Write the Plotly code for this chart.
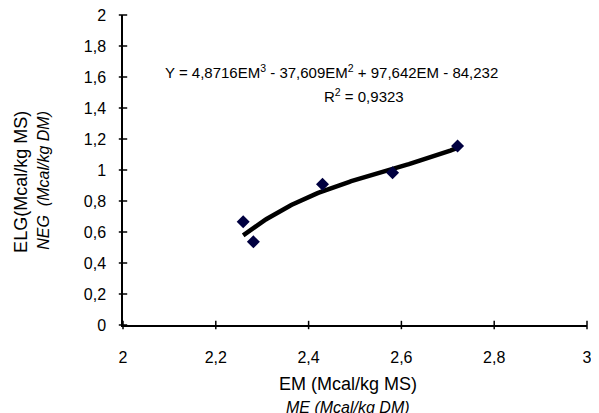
import numpy as np
import plotly.graph_objects as go

# Data
em_values = [2.259, 2.281, 2.430, 2.581, 2.721]
elg_values = [0.666, 0.537, 0.908, 0.983, 1.155]
# Trendline coefficients as printed on the chart (cubic, highest power first)
trend_coefs = [4.8716, -37.609, 97.642, -84.232]
x_ticks = [2, 2.2, 2.4, 2.6, 2.8, 3]
y_ticks = [0, 0.2, 0.4, 0.6, 0.8, 1, 1.2, 1.4, 1.6, 1.8, 2]
x_range = [2, 3]
y_range = [0, 2]

FONT = "Arial, Liberation Sans, sans-serif"

# The page body has an 8px margin; size the figure so the plot area lands
# at page x 123..591, y 15..325.
OFF = 8
PL, PR, PT, PB = 123, 591, 15, 325  # plot area in page pixels
W, H = 599 - OFF, 413 - OFF


def px(xp):
    return (xp - PL) / (PR - PL)


def py(yp):
    return (PB - yp) / (PB - PT)


xt = np.linspace(min(em_values), max(em_values), 120)
yt = np.polyval(trend_coefs, xt)

fig = go.Figure()
# crossing tick marks drawn through the axes' own scales
fig.add_trace(go.Scatter(x=x_ticks, y=[y_range[0]] * len(x_ticks), mode="markers",
                         marker=dict(symbol="line-ns", size=6,
                                     line=dict(color="black", width=1.5)),
                         cliponaxis=False, hoverinfo="skip", showlegend=False))
fig.add_trace(go.Scatter(x=[x_range[0]] * len(y_ticks), y=y_ticks, mode="markers",
                         marker=dict(symbol="line-ew", size=6,
                                     line=dict(color="black", width=1.5)),
                         cliponaxis=False, hoverinfo="skip", showlegend=False))
fig.add_trace(go.Scatter(x=xt, y=yt, mode="lines",
                         line=dict(color="black", width=4.5),
                         hoverinfo="skip", showlegend=False))
fig.add_trace(go.Scatter(x=em_values, y=elg_values, mode="markers",
                         marker=dict(symbol="diamond", size=10, color="#000040"),
                         cliponaxis=False, showlegend=False))

axis_common = dict(showgrid=False, zeroline=False, showline=True,
                   linecolor="black", linewidth=1.5, ticks="",
                   tickfont=dict(family=FONT, size=16, color="black"))

fig.update_layout(
    width=W, height=H,
    margin=dict(l=PL - OFF, r=W - (PR - OFF), t=PT - OFF, b=H - (PB - OFF)),
    paper_bgcolor="white", plot_bgcolor="white",
    separators=",.",
    font=dict(family=FONT, color="black"),
    xaxis=dict(range=x_range, tickvals=x_ticks, ticklabelstandoff=17,
               automargin=True, **axis_common),
    yaxis=dict(range=y_range, tickvals=y_ticks, ticklabelstandoff=12,
               ticklabeloverflow="allow", automargin=False, **axis_common),
)

ann = [
    dict(text="Y = 4,8716EM<sup>3</sup> - 37,609EM<sup>2</sup> + 97,642EM - 84,232",
         x=px(163), y=py(71), xanchor="left", font=dict(size=15)),
    dict(text="R<sup>2</sup> = 0,9323", x=px(324), y=py(95), xanchor="left",
         font=dict(size=15)),
    dict(text="EM (Mcal/kg MS)", x=px(350), y=py(384), xanchor="center",
         font=dict(size=18)),
    dict(text="<i>ME (Mcal/kg DM)</i>", x=px(350), y=py(407), xanchor="center",
         font=dict(size=16)),
    dict(text="ELG(Mcal/kg MS)", x=px(20), y=py(182), xanchor="center",
         textangle=-90, font=dict(size=18)),
    dict(text="<i>NEG\u00a0 (Mcal/kg DM)</i>", x=px(42), y=py(180), xanchor="center",
         textangle=-90, font=dict(size=16)),
]
for a in ann:
    a.update(xref="paper", yref="paper", yanchor="middle", showarrow=False)
    a["font"].update(family=FONT, color="black")
fig.update_layout(annotations=ann)

fig.write_html("out.html")
